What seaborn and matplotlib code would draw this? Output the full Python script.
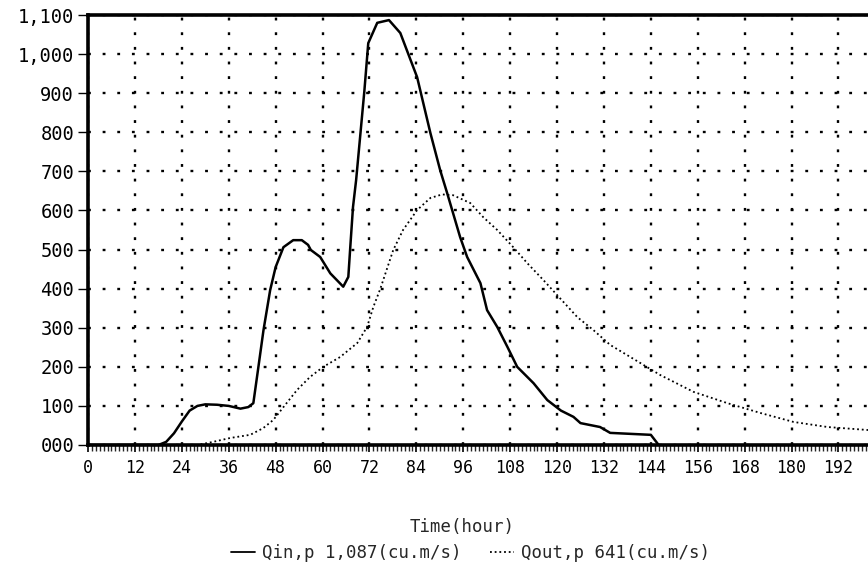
import numpy as np
import pandas as pd
import matplotlib
matplotlib.use("Agg")
import matplotlib.pyplot as plt
from matplotlib.ticker import MultipleLocator
from matplotlib.lines import Line2D
import seaborn as sns

# inflow hydrograph
qin_time = [0, 18, 20, 22, 24, 26, 28, 30, 33, 36, 39, 41, 42.3, 43.6, 44.9, 46.6,
            48, 50, 52.5, 54.7, 56.3, 57, 59.4, 62, 65.3, 66.6, 67.1, 67.8, 68.6,
            70.7, 71.7, 74, 77, 79.9, 84.2, 87.6, 90.1, 91.9, 95.2, 97, 100.4,
            102.1, 104.7, 107.3, 109.8, 114, 117.5, 121, 124.2, 126, 131, 133.6,
            144, 146]
qin_flow = [0, 0, 8, 30, 60, 88, 100, 104, 103, 100, 93, 97, 107, 200, 294, 396,
            455, 506, 524, 524, 512, 499, 481, 439, 405, 430, 506, 609, 678,
            905, 1028, 1080, 1087, 1054, 941, 798, 703, 644, 532, 481, 414,
            345, 302, 251, 200, 158, 115, 88, 72, 56, 46, 31,
            26, 0]

# outflow hydrograph
qout_time = [0, 28, 32, 36.4, 41.5, 44.8, 47.4, 50, 53.5, 56.8, 60.2, 64.5, 68.9,
             71.4, 73, 74.8, 78.1, 80.6, 84.2, 87.6, 90.6, 93.4, 97.8, 101.1,
             104.7, 108.8, 112.4, 116.5, 120.8, 125.2, 129.3, 133.6, 142.1,
             146.4, 154.9, 163.6, 172, 180.5, 189.2, 200]
qout_flow = [0, 0, 8, 18, 26, 43, 64, 97, 141, 174, 200, 225, 261,
             302, 353, 400, 499, 550, 601, 632, 641, 639, 619, 583,
             550, 506, 465, 422, 375, 327, 294, 256, 205,
             179, 136, 107, 82, 59, 46, 38]

x_ticks = list(range(0, 193, 12))
y_ticks = list(range(0, 1101, 100))
y_labels = ["000", "100", "200", "300", "400", "500", "600", "700", "800",
            "900", "1,000", "1,100"]

qin_label = "Qin,p 1,087(cu.m/s)"
qout_label = "Qout,p 641(cu.m/s)"

sns.set_style("white")
plt.rcParams['font.family'] = ['DejaVu Sans Mono', 'DejaVu Sans']

fig = plt.figure(figsize=(8.68, 5.8), dpi=100)
ax = fig.add_axes([88 / 868, 1 - 445 / 580, 1 - 88 / 868 + 0.002, 430 / 580])

df_in = pd.DataFrame({"t": qin_time, "q": qin_flow})
df_out = pd.DataFrame({"t": qout_time, "q": qout_flow})

sns.lineplot(data=df_in, x="t", y="q", ax=ax, color="black", linewidth=1.8,
             sort=False, zorder=3)
sns.lineplot(data=df_out, x="t", y="q", ax=ax, color="black", linewidth=1.3,
             linestyle=(0, (1, 1.6)), sort=False, zorder=3)

ax.set_xlim(0, 200)
ax.set_ylim(0, 1100)
ax.set_xticks(x_ticks)
ax.set_xticklabels([str(v) for v in x_ticks])
ax.set_yticks(y_ticks)
ax.set_yticklabels(y_labels)
ax.xaxis.set_minor_locator(MultipleLocator(1))

ax.grid(True, which="major", color="black", linestyle=(0, (1.2, 5)),
        linewidth=1.7)
ax.set_axisbelow(True)

for side in ["left", "bottom", "top"]:
    ax.spines[side].set_linewidth(2.6)
    ax.spines[side].set_color("black")
ax.spines["right"].set_visible(False)

ax.tick_params(axis="y", which="major", direction="out", length=7, width=1,
               left=True, pad=3, labelsize=13.5, colors="black")
ax.tick_params(axis="x", which="major", direction="out", length=5, width=1.2,
               bottom=True, pad=5, labelsize=12, colors="black")
ax.tick_params(axis="x", which="minor", direction="out", length=4, width=1,
               bottom=True)

ax.set_xlabel("")
ax.set_ylabel("")

fig.text(0.532, 1 - 527 / 580, "Time(hour)", ha="center", va="center",
         fontsize=12.5)

handles = [Line2D([], [], color="black", linewidth=1.3),
           Line2D([], [], color="black", linewidth=1.3, linestyle=(0, (1, 1.6)))]
fig.legend(handles, [qin_label, qout_label], loc="center",
           bbox_to_anchor=(0.542, 1 - 553 / 580), ncol=2, frameon=False,
           fontsize=12.5, handlelength=1.4, handletextpad=0.4, columnspacing=1.6)

plt.savefig("out.png", dpi=100)
plt.close()
